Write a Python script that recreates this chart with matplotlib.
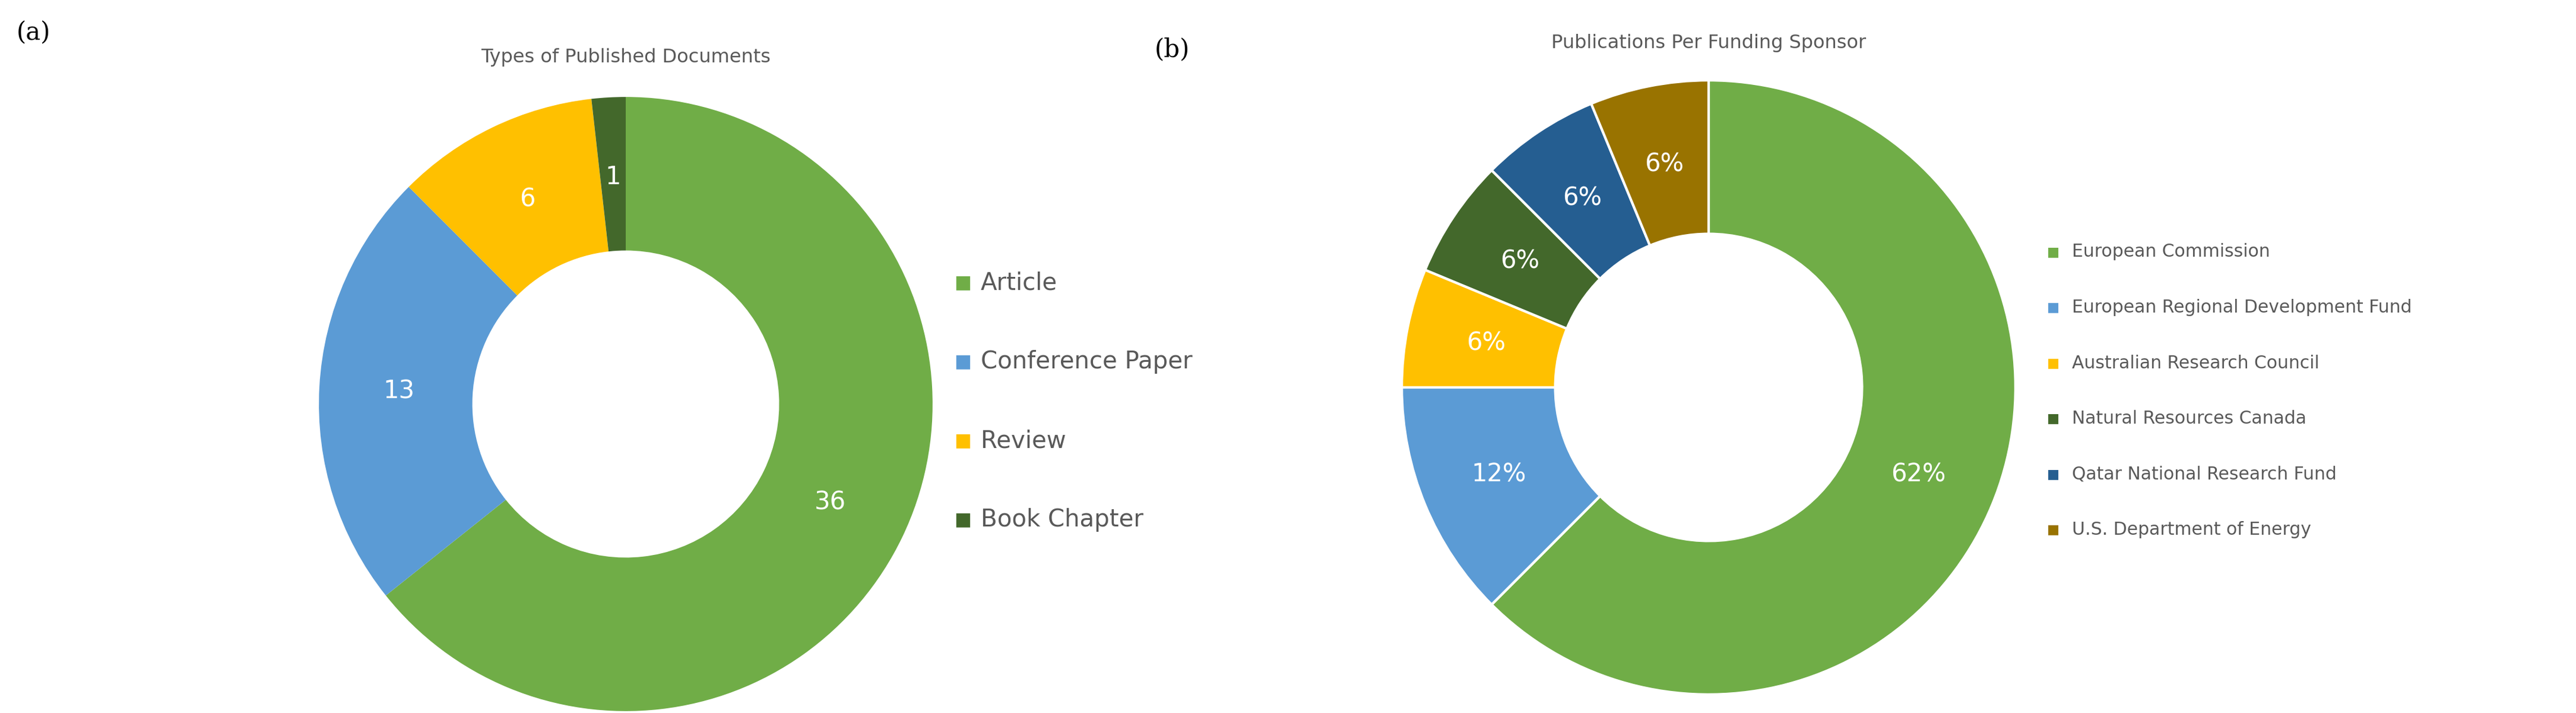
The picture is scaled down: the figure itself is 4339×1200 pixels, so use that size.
import matplotlib
matplotlib.use("Agg")
import matplotlib.pyplot as plt

W, H = 4339, 1200
doc_types = ["Article", "Conference Paper", "Review", "Book Chapter"]
doc_counts = [36, 13, 6, 1]
doc_colors = ["#70AD47", "#5B9BD5", "#FFC000", "#43682B"]

sponsors = ["European Commission", "European Regional Development Fund",
            "Australian Research Council", "Natural Resources Canada",
            "Qatar National Research Fund", "U.S. Department of Energy"]
sponsor_counts = [10, 2, 1, 1, 1, 1]
sponsor_colors = ["#70AD47", "#5B9BD5", "#FFC000", "#43682B", "#255E91", "#997300"]

fig = plt.figure(figsize=(W/100, H/100), dpi=100)
fig.patch.set_facecolor("white")

def donut(cx, cy, R, vals, cols, fmt, edge):
    ax = fig.add_axes([(cx-R)/W, 1-(cy+R)/H, 2*R/W, 2*R/H])
    total = sum(vals)
    wedges, texts, autot = ax.pie(vals, colors=cols, startangle=90, counterclock=False,
        radius=1, autopct=lambda p: fmt(p, total), pctdistance=0.74,
        wedgeprops=dict(width=0.5, edgecolor="white" if edge else None,
                        linewidth=3 if edge else 0),
        textprops=dict(color="white", fontsize=30))
    ax.set_xlim(-1.01, 1.01); ax.set_ylim(-1.01, 1.01)
    ax.set_aspect("equal"); ax.axis("off")
    return ax

donut(1054, 680, 522, doc_counts, doc_colors,
      lambda p, t: f"{round(p*t/100):d}", False)
donut(2878, 652, 522, sponsor_counts, sponsor_colors,
      lambda p, t: f"{p:.0f}%", True)

fig.text(1054/W, 1-97/H, "Types of Published Documents", ha="center", va="center",
         fontsize=23, color="#595959")
fig.text(2878/W, 1-72/H, "Publications Per Funding Sponsor", ha="center", va="center",
         fontsize=23, color="#595959")
fig.text(28/W, 1-55/H, "(a)", fontsize=30, family="DejaVu Serif", va="center")
fig.text(1945/W, 1-83/H, "(b)", fontsize=30, family="DejaVu Serif", va="center")

for i, (lab, c) in enumerate(zip(doc_types, doc_colors)):
    y = 476 + i*133
    fig.text(1622/W, 1-y/H, "■", color=c, fontsize=22, ha="center", va="center")
    fig.text(1652/W, 1-y/H, lab, color="#595959", fontsize=29, va="center")
for i, (lab, c) in enumerate(zip(sponsors, sponsor_colors)):
    y = 424 + i*93.5
    fig.text(3458/W, 1-y/H, "■", color=c, fontsize=16, ha="center", va="center")
    fig.text(3490/W, 1-y/H, lab, color="#595959", fontsize=21.5, va="center")

fig.savefig("out.png", dpi=100)
